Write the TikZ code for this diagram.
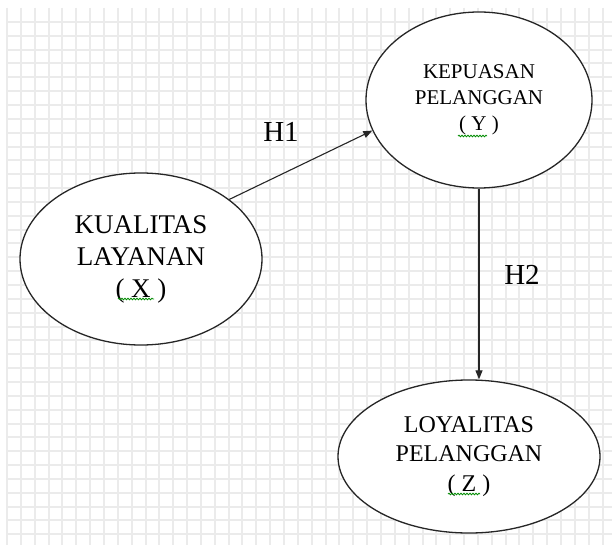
\documentclass[tikz,border=0pt]{standalone}
\usepackage{fontspec}
\setmainfont{Liberation Serif}
\usetikzlibrary{shapes.geometric,arrows.meta,decorations.pathmorphing}
\begin{document}
\begin{tikzpicture}[x=1pt,y=-1pt,
  gridline/.style={draw=black!8, line width=2pt},
  latent/.style={ellipse, draw=black!85, line width=1.3pt, fill=white, inner sep=0pt, align=center},
  link/.style={draw=black!85, line width=1.1pt, -{Triangle[length=9pt,width=7pt]}},
  hlabel/.style={font=\fontsize{29}{29}\selectfont, inner sep=0pt},
  wavy/.style={draw=green!55!black, line width=0.8pt, decorate, decoration={snake, amplitude=0.8pt, segment length=3pt}}]
\useasboundingbox (0,0) rectangle (612,545);
\fill[white] (0,0) rectangle (612,545);
\foreach \i in {0,...,43} \draw[gridline] ({round(7+13.85*\i)},8) -- ({round(7+13.85*\i)},545);
\foreach \j in {1,...,38} \draw[gridline] (6,{round(8+13.85*\j)}) -- (612,{round(8+13.85*\j)});

\node[latent, minimum width=242pt, minimum height=172pt, font=\fontsize{27}{32}\selectfont] (X) at (141,259) {KUALITAS\\LAYANAN\\( X )};
\node[latent, minimum width=226pt, minimum height=176pt, font=\fontsize{21}{26}\selectfont] (Y) at (479,100) {KEPUASAN\\PELANGGAN\\( Y )};
\node[latent, minimum width=262pt, minimum height=153pt, font=\fontsize{24}{29.5}\selectfont] (Z) at (469,456.5) {LOYALITAS\\PELANGGAN\\( Z )};

\draw[link] (X.34) -- (Y.196);
\draw[link] (Y.south) -- (Y.south |- Z.north);

\node[hlabel] (h1) at (281,132) {H1};
\node[hlabel] (h2) at (522,275) {H2};

\draw[wavy] (118,299) -- (154,299);
\draw[wavy] (458,136) -- (487,136);
\draw[wavy] (448,494) -- (480,494);
\end{tikzpicture}
\end{document}
